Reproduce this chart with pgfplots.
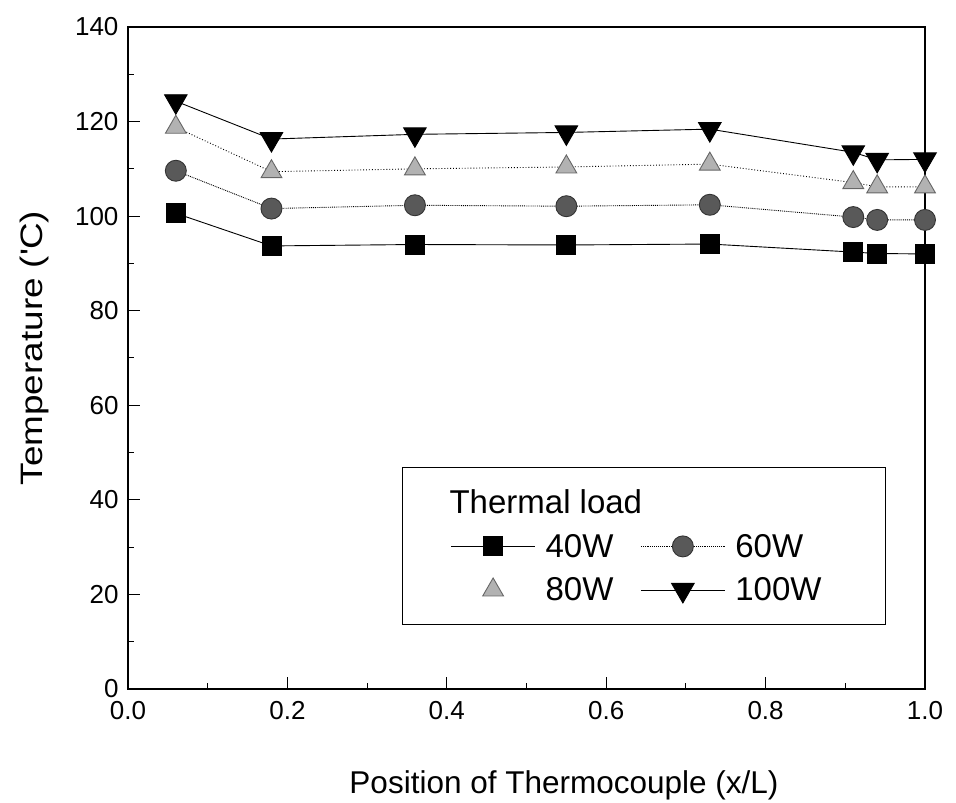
\documentclass[border=0pt]{standalone}
\usepackage{fontspec}
\setmainfont{Liberation Sans}
\newfontfamily\ylabfont[FakeStretch=1.19]{Liberation Sans}
\usepackage{pgfplots}
\pgfplotsset{compat=1.18}
\begin{document}
\begin{tikzpicture}
\useasboundingbox (-128pt,-114pt) rectangle (828pt,689pt);
\begin{axis}[
  scale only axis,
  width=797pt, height=662pt,
  xmin=0, xmax=1, ymin=0, ymax=140,
  xtick={0,0.2,0.4,0.6,0.8,1.0},
  ytick={0,20,40,60,80,100,120,140},
  minor x tick num=1, minor y tick num=1,
  xtick pos=bottom, ytick pos=left,
  tick align=inside,
  major tick length=12pt, minor tick length=6pt,
  axis line style={line width=1.6pt},
  every tick/.style={black, line width=1pt},
  /pgf/number format/assume math mode=true,
  xticklabel style={/pgf/number format/fixed, /pgf/number format/fixed zerofill, /pgf/number format/precision=1, font=\fontsize{26}{30}\selectfont, yshift=-9pt},
  yticklabel style={font=\fontsize{26}{30}\selectfont, xshift=-6pt},
  xlabel={Position of Thermocouple (x/L)},
  ylabel={Temperature (\textquotesingle C)},
  xlabel style={font=\fontsize{31.5}{36}\selectfont, at={(axis description cs:0.547,-0.145)}, anchor=center},
  ylabel style={font=\ylabfont\fontsize{31}{36}\selectfont, at={(axis description cs:-0.117,0.515)}, anchor=center, rotate=0},
  legend columns=2,
  legend cell align=left,
  legend style={at={(0.344,0.335)}, anchor=north west, font=\fontsize{33}{38}\selectfont, draw=black, line width=1pt, inner xsep=48pt, inner ysep=20pt, column sep=8pt, row sep=15pt, /tikz/every even column/.append style={column sep=25pt}},
  legend image code/.code={\draw[mark repeat=2,mark phase=2,#1] plot coordinates {(0pt,0pt)(42pt,0pt)(84pt,0pt)};},
]
\addlegendimage{empty legend}
\addlegendentry{\makebox[0pt][l]{\hspace{-96pt}Thermal load}}
\addlegendimage{empty legend}
\addlegendentry{}
\addplot[black, line width=0.9pt, mark=square*, mark size=9.5pt, mark options={solid, fill=black}]
coordinates {(0.06,100.6)(0.18,93.7)(0.36,94.0)(0.55,93.9)(0.73,94.1)(0.91,92.4)(0.94,92.1)(1.0,92.0)};
\addlegendentry{40W}
\addplot[black, line width=0.9pt, densely dotted, mark=*, mark size=10.5pt, mark options={solid, fill=black!65, draw=black!80}]
coordinates {(0.06,109.6)(0.18,101.6)(0.36,102.3)(0.55,102.1)(0.73,102.4)(0.91,99.8)(0.94,99.2)(1.0,99.2)};
\addlegendentry{60W}
\addplot[black, line width=0.9pt, dotted, mark=triangle*, mark size=12pt, mark options={solid, fill=black!30, draw=black!60}, legend image post style={only marks}]
coordinates {(0.06,118.8)(0.18,109.4)(0.36,110.0)(0.55,110.4)(0.73,111.0)(0.91,107.1)(0.94,106.2)(1.0,106.2)};
\addlegendentry{80W}
\addplot[black, line width=0.9pt, mark=triangle*, mark size=13pt, mark options={solid, fill=black, rotate=180}]
coordinates {(0.06,124.3)(0.18,116.3)(0.36,117.3)(0.55,117.7)(0.73,118.4)(0.91,113.5)(0.94,111.9)(1.0,112.0)};
\addlegendentry{\makebox[100pt][l]{100W}}
\end{axis}
\end{tikzpicture}
\end{document}
